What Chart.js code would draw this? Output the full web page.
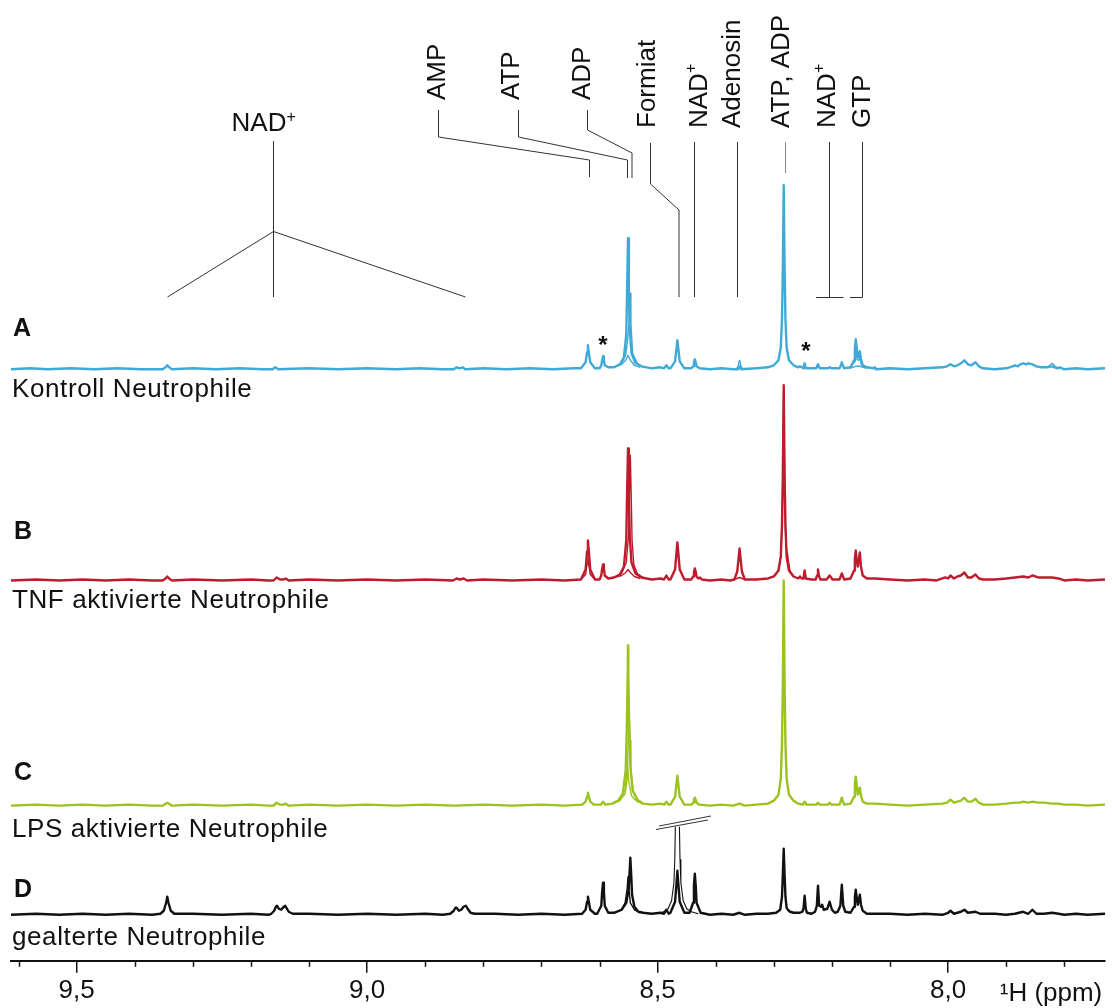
<!DOCTYPE html>
<html>
<head>
<meta charset="utf-8">
<script src="https://cdn.jsdelivr.net/npm/chart.js@4.4.1/dist/chart.umd.min.js"></script>
<style>
  html, body { margin: 0; padding: 0; background: #fff; }
  canvas { display: block; }
</style>
</head>
<body>
<canvas id="nmr" width="1112" height="1008"></canvas>
<script>
// 1H NMR spectra of neutrophil extracts
// each pair is [ppm, intensity above the spectrum's baseline]

// A: control neutrophils (main trace + replicates that differ)
let specA = [
  [9.613,0],[9.58,1],[9.55,0],[9.51,1],[9.47,0],[9.43,1],[9.39,0],
  [9.352,0],[9.347,2],[9.344,4],[9.341,2],[9.336,0],
  [9.30,1],[9.26,0],[9.22,1],[9.18,0],
  [9.163,0],[9.158,2],[9.153,0],
  [9.10,1],[9.05,0],[9.00,1],[8.95,0],[8.91,1],[8.87,0],
  [8.851,0],[8.846,2],[8.841,1],[8.836,2],[8.831,0],
  [8.80,1],[8.76,0],[8.72,1],[8.68,0],[8.645,1],
  [8.632,1],[8.624,7],[8.6215,17],[8.620,24],[8.6185,17],[8.616,7],[8.608,1],
  [8.600,1],[8.597,4],[8.5955,9],[8.594,13],[8.5925,9],[8.591,4],[8.585,2],
  [8.575,2],[8.565,5],[8.558,12],[8.554,35],[8.5525,80],[8.551,131],[8.5495,80],[8.548,40],[8.545,16],[8.538,6],[8.528,3],
  [8.51,1],[8.495,2],
  [8.489,1],[8.485,4],[8.481,1],
  [8.478,1],[8.470,8],[8.4675,21],[8.466,29],[8.4645,21],[8.462,8],[8.454,1],
  [8.442,1],[8.439,3],[8.4375,7],[8.436,10],[8.4345,7],[8.433,3],[8.428,1],
  [8.41,0],[8.39,1],[8.37,0],
  [8.362,0],[8.359,3],[8.356,0],
  [8.33,1],[8.31,2],
  [8.300,4],[8.292,9],[8.288,22],[8.286,50],[8.2845,100],[8.283,184],[8.2815,100],[8.280,50],[8.278,22],[8.274,9],[8.266,4],
  [8.258,2],[8.255,3],[8.252,2],[8.249,1],[8.247,6],[8.245,1],[8.235,1],
  [8.227,1],[8.224,5],[8.221,1],[8.207,1],[8.204,2],[8.201,1],
  [8.187,1],[8.1845,4],[8.183,7],[8.1815,4],[8.179,1],
  [8.168,2],[8.162,9],[8.1605,22],[8.159,30],[8.1575,22],[8.1555,12],[8.154,14],[8.152,18],[8.150,10],[8.147,4],[8.14,2],
  [8.128,1],[8.126,2],[8.124,0],
  [8.10,1],[8.07,0],[8.04,1],[8.01,2],
  [8.002,3],[7.996,5],[7.990,3],[7.984,4],[7.978,6],[7.972,9],[7.966,5],[7.960,4],[7.953,7],[7.947,3],[7.94,1],
  [7.92,0],[7.90,1],[7.889,3],[7.885,4],[7.880,3],[7.876,5],[7.871,6],[7.866,5],[7.862,6],[7.855,5],[7.848,3],[7.840,2],[7.830,2],[7.821,3],[7.812,1],[7.808,2],[7.80,0],
  [7.78,1],[7.76,0],[7.73,1]
];
let specA2 = [
  [8.575,2],[8.562,6],[8.555,14],[8.5515,30],[8.549,46],[8.5475,76],[8.546,46],[8.543,16],[8.535,6],[8.525,2],
  [8.52,null],
  [8.366,0],[8.362,2],[8.3605,6],[8.359,9],[8.3575,6],[8.356,2],[8.352,0],
  [8.35,null],
  [8.168,2],[8.162,7],[8.1605,16],[8.159,22],[8.157,10],[8.154,9],[8.152,12],[8.149,4],[8.14,2],
  [8.13,null],
  [7.83,2],[7.825,4],[7.821,6],[7.816,3],[7.81,1]
];
let specA3 = [
  [8.575,2],[8.562,5],[8.555,9],[8.551,14],[8.547,9],[8.54,4],[8.53,2],
  [8.52,null],
  [8.17,1],[8.159,3],[8.152,3],[8.14,1]
];

// B: TNF activated
let specB = [
  [9.613,0],[9.57,1],[9.53,0],[9.49,1],[9.45,0],[9.41,1],[9.37,0],
  [9.352,0],[9.347,2],[9.344,4],[9.341,2],[9.336,0],
  [9.30,1],[9.25,0],[9.20,1],[9.17,0],
  [9.161,0],[9.156,3],[9.150,1],[9.144,1],[9.140,2],[9.135,0],
  [9.10,1],[9.05,0],[9.00,1],[8.95,0],[8.90,1],
  [8.852,0],[8.846,2],[8.840,1],[8.834,2],[8.828,0],
  [8.80,1],[8.75,0],[8.70,1],[8.66,0],
  [8.632,1],[8.624,11],[8.6215,29],[8.620,40],[8.6185,29],[8.616,11],[8.608,1],
  [8.600,1],[8.597,5],[8.5955,12],[8.594,16],[8.5925,12],[8.591,5],[8.585,2],
  [8.575,3],[8.565,6],[8.558,14],[8.554,40],[8.5525,90],[8.551,132],[8.5495,90],[8.548,45],[8.545,18],[8.538,7],[8.528,3],
  [8.51,1],[8.495,2],
  [8.489,1],[8.485,5],[8.481,1],
  [8.478,1],[8.470,11],[8.4675,28],[8.466,38],[8.4645,28],[8.462,11],[8.454,1],
  [8.442,1],[8.439,4],[8.4375,9],[8.436,12],[8.4345,9],[8.433,4],[8.430,2],[8.427,3],[8.424,1],
  [8.41,0],[8.39,1],[8.375,0],
  [8.368,1],[8.363,9],[8.3605,23],[8.359,32],[8.3575,23],[8.355,9],[8.350,1],
  [8.33,1],[8.31,2],
  [8.300,4],[8.292,10],[8.288,24],[8.286,55],[8.2845,105],[8.283,195],[8.2815,105],[8.280,55],[8.278,24],[8.274,10],[8.266,4],
  [8.258,2],[8.255,4],[8.252,2],[8.249,2],[8.247,10],[8.245,2],[8.235,1],
  [8.228,1],[8.2255,5],[8.224,11],[8.2225,5],[8.220,1],
  [8.209,1],[8.204,5],[8.199,1],
  [8.187,1],[8.183,7],[8.179,1],
  [8.168,2],[8.162,10],[8.1605,22],[8.159,30],[8.1575,20],[8.1555,14],[8.154,20],[8.152,28],[8.150,14],[8.147,5],[8.14,2],
  [8.126,2],[8.10,1],[8.07,0],[8.04,1],[8.02,0],
  [8.005,3],[8.000,2],[7.996,5],[7.990,2],[7.984,4],[7.978,5],[7.972,8],[7.966,3],[7.960,3],[7.953,6],[7.947,2],[7.94,1],
  [7.92,1],[7.90,2],[7.885,3],[7.871,4],[7.862,3],[7.855,5],[7.845,3],[7.835,3],[7.821,3],[7.81,2],[7.80,0],
  [7.78,1],[7.76,0],[7.73,1]
];
let specB2 = [
  [8.632,1],[8.624,6],[8.6215,16],[8.620,22],[8.6185,16],[8.616,6],[8.608,1],
  [8.60,null],
  [8.575,3],[8.562,7],[8.554,18],[8.550,45],[8.5485,85],[8.547,125],[8.5455,85],[8.544,40],[8.541,16],[8.535,7],[8.525,3],
  [8.52,null],
  [8.368,1],[8.359,3],[8.350,1],
  [8.34,null],
  [8.300,4],[8.292,10],[8.288,24],[8.286,55],[8.2845,100],[8.283,190],[8.2815,100],[8.280,50],[8.278,30],[8.2765,27],[8.275,20],[8.272,9],[8.266,4]
];
let specB3 = [
  [8.575,3],[8.562,5],[8.555,8],[8.551,11],[8.547,8],[8.54,4],[8.53,2]
];

// C: LPS activated
let specC = [
  [9.613,0],[9.57,1],[9.53,0],[9.49,1],[9.45,0],[9.41,1],[9.37,0],
  [9.352,0],[9.347,2],[9.344,3],[9.341,2],[9.336,0],
  [9.30,1],[9.25,0],[9.20,1],[9.17,0],
  [9.161,0],[9.156,3],[9.150,1],[9.144,1],[9.140,2],[9.135,0],
  [9.10,1],[9.05,0],[9.00,1],[8.95,0],[8.90,1],[8.85,0],
  [8.80,1],[8.75,0],[8.70,1],[8.66,0],
  [8.630,1],[8.624,4],[8.6215,9],[8.620,13],[8.6185,9],[8.616,4],[8.610,1],
  [8.598,1],[8.594,4],[8.590,1],
  [8.578,2],[8.568,5],[8.560,12],[8.555,35],[8.553,80],[8.5515,130],[8.551,160],[8.5505,130],[8.549,80],[8.547,40],[8.543,15],[8.535,6],[8.525,2],
  [8.51,1],[8.495,2],
  [8.489,1],[8.485,4],[8.481,1],
  [8.478,1],[8.470,9],[8.4675,22],[8.466,30],[8.4645,22],[8.462,9],[8.454,1],
  [8.442,1],[8.439,3],[8.4375,6],[8.436,8],[8.4345,6],[8.433,3],[8.428,1],
  [8.41,0],[8.39,1],[8.37,0],[8.359,2],[8.35,0],
  [8.33,1],[8.31,2],
  [8.300,5],[8.292,11],[8.288,27],[8.286,62],[8.2845,120],[8.283,225],[8.2815,120],[8.280,62],[8.278,27],[8.274,11],[8.266,5],
  [8.258,2],[8.250,1],[8.247,4],[8.244,1],[8.235,1],
  [8.227,1],[8.224,3],[8.221,1],[8.207,1],[8.204,3],[8.201,1],
  [8.187,1],[8.1845,5],[8.183,8],[8.1815,5],[8.179,1],
  [8.168,2],[8.162,9],[8.1605,21],[8.159,29],[8.1575,21],[8.1555,11],[8.154,14],[8.152,18],[8.150,10],[8.147,4],[8.14,2],
  [8.126,2],[8.10,1],[8.07,0],[8.04,1],[8.01,2],
  [8.002,3],[7.996,6],[7.990,3],[7.984,4],[7.978,5],[7.972,8],[7.966,4],[7.960,4],[7.953,7],[7.947,3],[7.94,1],
  [7.92,1],[7.90,2],[7.885,3],[7.876,3],[7.871,4],[7.862,3],[7.855,4],[7.845,3],[7.835,3],[7.821,2],[7.81,2],[7.80,1],
  [7.78,1],[7.76,0],[7.73,1]
];
let specC2 = [
  [8.578,2],[8.565,6],[8.556,16],[8.552,40],[8.5505,65],[8.549,95],[8.5475,65],[8.546,35],[8.542,14],[8.535,6],[8.525,2]
];
let specC3 = [
  [8.578,2],[8.565,5],[8.556,12],[8.553,25],[8.552,45],[8.550,25],[8.545,10],[8.535,4],[8.525,2]
];

// D: aged neutrophils
let specD = [
  [9.613,0],[9.57,1],[9.53,0],[9.49,1],[9.45,0],[9.41,1],[9.37,0],
  [9.356,1],[9.350,4],[9.346,12],[9.344,18],[9.342,12],[9.338,4],[9.332,1],
  [9.30,1],[9.25,0],[9.20,1],[9.17,0],
  [9.165,1],[9.160,4],[9.157,8],[9.155,9],[9.152,6],[9.148,5],[9.145,7],[9.141,9],[9.139,7],[9.135,3],[9.128,1],
  [9.10,1],[9.05,0],[9.00,1],[8.95,0],[8.90,1],[8.87,0],
  [8.857,1],[8.851,4],[8.848,7],[8.846,7],[8.842,4],[8.838,5],[8.834,8],[8.830,9],[8.827,6],[8.822,2],[8.815,1],
  [8.78,1],[8.74,0],[8.70,1],[8.66,0],
  [8.630,1],[8.624,5],[8.6215,13],[8.620,18],[8.6185,13],[8.616,5],[8.608,1],
  [8.604,1],[8.597,9],[8.5955,23],[8.594,32],[8.5925,23],[8.591,9],[8.585,2],
  [8.575,2],[8.562,5],[8.554,12],[8.550,25],[8.5485,40],[8.547,57],[8.5455,40],[8.544,20],[8.540,8],[8.533,3],[8.525,2],
  [8.51,1],[8.495,2],
  [8.489,1],[8.485,5],[8.481,1],
  [8.478,2],[8.470,13],[8.4675,32],[8.466,44],[8.4645,32],[8.462,13],[8.454,2],
  [8.445,2],[8.439,12],[8.4375,30],[8.436,41],[8.4345,30],[8.433,12],[8.426,2],
  [8.41,0],[8.39,1],[8.37,0],[8.359,2],[8.35,0],
  [8.33,1],[8.31,1],
  [8.296,2],[8.289,5],[8.286,18],[8.2845,40],[8.283,66],[8.2815,40],[8.280,18],[8.278,7],[8.276,5],[8.272,3],[8.266,2],
  [8.255,2],[8.251,3],[8.249,6],[8.247,19],[8.245,6],[8.243,2],
  [8.235,1],
  [8.229,3],[8.226,9],[8.224,29],[8.222,9],[8.219,8],[8.217,10],[8.214,5],[8.208,6],[8.204,13],[8.200,5],[8.195,2],
  [8.190,3],[8.1855,9],[8.183,30],[8.1805,9],[8.177,3],
  [8.168,2],[8.162,8],[8.1605,18],[8.159,25],[8.1575,18],[8.1555,10],[8.154,14],[8.152,20],[8.150,10],[8.147,4],[8.14,1],
  [8.126,1],[8.10,1],[8.07,0],[8.04,1],[8.01,0],
  [8.000,2],[7.996,4],[7.990,1],[7.978,3],[7.972,5],[7.966,2],[7.953,3],[7.945,1],
  [7.92,1],[7.90,0],[7.885,1],[7.871,3],[7.862,1],[7.855,5],[7.848,1],[7.835,1],[7.821,2],[7.81,1],[7.80,0],
  [7.78,1],[7.76,0],[7.73,1]
];
let specD2 = [
  [8.575,2],[8.562,5],[8.556,12],[8.5525,26],[8.551,38],[8.5495,26],[8.547,12],[8.54,5],[8.53,2]
];
// formate peak of one sample, cut at the axis break
let specD3 = [
  [8.50,1],[8.49,3],[8.482,6],[8.476,14],[8.472,32],[8.4705,55],[8.4695,88],
  [8.466,null],
  [8.4625,88],[8.4615,55],[8.460,32],[8.456,14],[8.450,6],[8.442,3],[8.43,1]
];

// minor ticks on the ppm axis
let minorTicks = [9.6, 9.4, 9.3, 9.2, 9.1, 8.9, 8.8, 8.7, 8.6, 8.4, 8.3, 8.2, 8.1, 7.9, 7.8];

// stacking offsets and colours
let FONT = "'Liberation Sans', Arial, sans-serif";
let baseA = 591, baseB = 380, baseC = 155, baseD = 46;
let blue = "rgb(64, 170, 215)";
let red = "rgb(190, 28, 45)";
let green = "rgb(155, 195, 30)";
let black = "#111";

let traces = [
  { data: specD, base: baseD, color: black, width: 2.4 },
  { data: specD2, base: baseD, color: black, width: 1.4 },
  { data: specD3, base: baseD, color: black, width: 1.1 },
  { data: specC, base: baseC, color: green, width: 2.4 },
  { data: specC2, base: baseC, color: green, width: 1.4 },
  { data: specC3, base: baseC, color: green, width: 1.4 },
  { data: specB, base: baseB, color: red, width: 2.4 },
  { data: specB2, base: baseB, color: red, width: 1.4 },
  { data: specB3, base: baseB, color: red, width: 1.4 },
  { data: specA, base: baseA, color: blue, width: 2.4 },
  { data: specA2, base: baseA, color: blue, width: 1.4 },
  { data: specA3, base: baseA, color: blue, width: 1.4 },
];

function toPoints(spec, base) {
  return spec.map(p => ({ x: p[0], y: p[1] === null ? null : p[1] + base }));
}

// straight connector lines
function path(ctx, pts, color) {
  ctx.strokeStyle = color || "#333";
  ctx.beginPath();
  ctx.moveTo(pts[0][0], pts[0][1]);
  for (let i = 1; i < pts.length; i++) ctx.lineTo(pts[i][0], pts[i][1]);
  ctx.stroke();
}

// rotated label, reading bottom to top
function vLabel(ctx, text, x, yBottom, sup) {
  ctx.save();
  ctx.translate(x, yBottom);
  ctx.rotate(-Math.PI / 2);
  ctx.textAlign = "left";
  ctx.textBaseline = "middle";
  ctx.font = "26px " + FONT;
  ctx.fillText(text, 0, 0);
  if (sup) {
    let w = ctx.measureText(text).width;
    ctx.font = "16px " + FONT;
    ctx.fillText("+", w, -8);
  }
  ctx.restore();
}

let annotations = {
  id: "annotations",
  afterDraw(chart) {
    let ctx = chart.ctx;
    let xs = chart.scales.x;
    let bottom = chart.chartArea.bottom;
    ctx.save();

    // minor ticks
    ctx.strokeStyle = "#111";
    ctx.lineWidth = 1.5;
    minorTicks.forEach(v => {
      let px = Math.round(xs.getPixelForValue(v)) + 0.5;
      ctx.beginPath();
      ctx.moveTo(px, bottom);
      ctx.lineTo(px, bottom + 6);
      ctx.stroke();
    });

    ctx.fillStyle = "#111";
    ctx.textBaseline = "alphabetic";
    ctx.textAlign = "center";
    ctx.font = "26px " + FONT;
    ctx.fillText("\u00B9H (ppm)", 1051, 1001);

    // panel letters and sample names
    ctx.textAlign = "left";
    ctx.font = "bold 25px " + FONT;
    ctx.fillText("A", 13, 336);
    ctx.fillText("B", 14, 539);
    ctx.fillText("C", 14, 780);
    ctx.fillText("D", 14, 897);
    ctx.font = "26px " + FONT;
    ctx.letterSpacing = "0.6px";
    ctx.fillText("Kontroll Neutrophile", 12, 397);
    ctx.fillText("TNF aktivierte Neutrophile", 12, 608);
    ctx.fillText("LPS aktivierte Neutrophile", 12, 837);
    ctx.fillText("gealterte Neutrophile", 12, 945);
    ctx.letterSpacing = "0px";

    // asterisks
    ctx.textAlign = "center";
    ctx.font = "bold 24px " + FONT;
    ctx.fillText("*", 603, 353);
    ctx.fillText("*", 806, 359);

    // NAD+ above the left peaks
    ctx.font = "26px " + FONT;
    ctx.textAlign = "left";
    let w = ctx.measureText("NAD").width;
    ctx.fillText("NAD", 262 - w / 2 - 3, 131);
    ctx.font = "16px " + FONT;
    ctx.fillText("+", 262 + w / 2 - 3, 122);

    // rotated metabolite labels
    vLabel(ctx, "AMP", 438, 100);
    vLabel(ctx, "ATP", 512, 100);
    vLabel(ctx, "ADP", 583, 100);
    vLabel(ctx, "Formiat", 648, 128);
    vLabel(ctx, "NAD", 700, 128, true);
    vLabel(ctx, "Adenosin", 733, 128);
    vLabel(ctx, "ATP, ADP", 782, 128);
    vLabel(ctx, "NAD", 828, 128, true);
    vLabel(ctx, "GTP", 863, 128);

    // connector lines
    ctx.lineWidth = 1;
    path(ctx, [[438.5, 110], [438.5, 137], [589.5, 160], [589.5, 177]]);
    path(ctx, [[518.5, 110], [518.5, 137], [627.5, 160], [627.5, 178]]);
    path(ctx, [[587.5, 110], [587.5, 130], [632, 153], [632, 178]]);
    path(ctx, [[650.5, 143], [650.5, 184], [679, 210], [679, 297]]);
    path(ctx, [[694.5, 142], [694.5, 297]]);
    path(ctx, [[737.5, 142], [737.5, 297]]);
    path(ctx, [[785.5, 142], [785.5, 173]], "#888");
    path(ctx, [[829.5, 142], [829.5, 297]]);
    path(ctx, [[816, 297.5], [843.5, 297.5]]);
    path(ctx, [[862.5, 142], [862.5, 297.5], [850, 297.5]]);
    path(ctx, [[273.5, 141], [273.5, 297]]);
    path(ctx, [[167.5, 297], [273.5, 231.5], [465.5, 297]]);

    // axis break on the formate peak of D
    path(ctx, [[656, 829.5], [708, 820]]);
    path(ctx, [[659, 826], [711, 816]]);

    ctx.restore();
  }
};

new Chart("nmr", {
  type: "line",
  data: {
    datasets: traces.map(t => ({
      data: toPoints(t.data, t.base),
      borderColor: t.color,
      borderWidth: t.width,
      pointRadius: 0,
      tension: 0,
      spanGaps: false,
      fill: false,
      borderJoinStyle: "round",
    })),
  },
  options: {
    responsive: false,
    animation: false,
    events: [],
    layout: { padding: { left: 11, right: 7, top: 0, bottom: 0 } },
    plugins: {
      legend: { display: false },
      tooltip: { enabled: false },
    },
    scales: {
      x: {
        type: "linear",
        reverse: true,
        min: 7.73,
        max: 9.613,
        border: { color: "#111", width: 2 },
        grid: { drawOnChartArea: false, tickLength: 12, color: "#111", lineWidth: 1.5 },
        ticks: {
          stepSize: 0.5,
          includeBounds: false,
          autoSkip: false,
          maxRotation: 0,
          padding: 2,
          color: "#111",
          font: { family: FONT, size: 26 },
          callback: v => v.toFixed(1).replace(".", ","),
        },
      },
      y: { display: false, min: 0, max: 960 },
    },
  },
  plugins: [annotations],
});
</script>
</body>
</html>
